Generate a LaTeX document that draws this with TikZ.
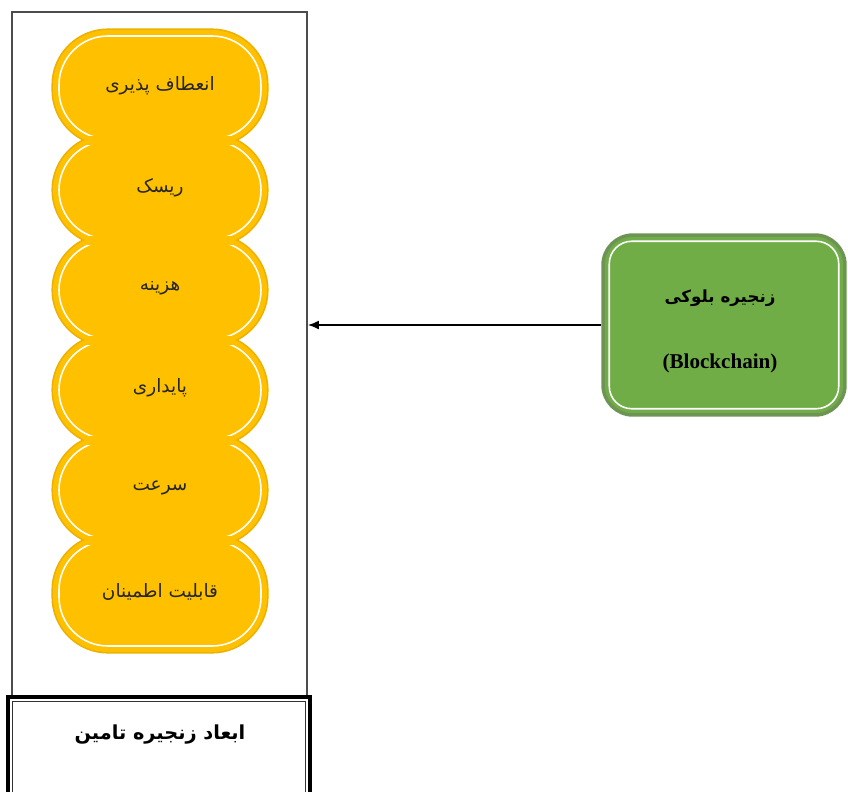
\documentclass[tikz,border=0pt]{standalone}
\usepackage{fontspec}
\usetikzlibrary{arrows.meta}
\newfontfamily\arabicfont[Script=Arabic]{DejaVu Sans}
\newfontfamily\latinserif{Liberation Serif}
\TeXXeTstate=1
\definecolor{gold}{HTML}{FFC000}
\definecolor{goldedge}{HTML}{EBB000}
\definecolor{leaf}{HTML}{70AD47}
\definecolor{leafedge}{HTML}{6E9455}
\tikzstyle{lobe} = [rounded corners=1.1cm]
\tikzstyle{lobeline} = [draw=white, line width=0.9pt, rounded corners=0.98cm]
\tikzstyle{lobetext} = [font=\arabicfont\fontsize{10.5}{12}\selectfont, text=black!85]
\tikzstyle{containerbox} = [draw=black!70, line width=1.1pt, rectangle, inner sep=0pt]
\tikzstyle{titlebox} = [draw=black, line width=2.4pt, rectangle, inner sep=0pt]
\tikzstyle{chainbox} = [draw=leafedge, fill=leaf, line width=2pt, rectangle,
    rounded corners=0.6cm, inner sep=0pt, align=center]

\begin{document}
\begin{tikzpicture}[x=0.02cm, y=-0.02cm]
\useasboundingbox (0,0) rectangle (848,791);
\def\lobes{30/145/0/135/flex/{انعطاف پذیری},
    135/245/145/235/risk/{ریسک},
    235/345/245/335/cost/{هزینه},
    335/445/345/435/stable/{پایداری},
    435/545/445/535/speed/{سرعت},
    535/652/545/700/trust/{قابلیت اطمینان}}

\node[containerbox, minimum width=5.9cm, minimum height=13.7cm] (dims) at (159.5,354.5) {};
\node[titlebox, minimum width=6.04cm, minimum height=2cm] (title) at (159,747) {};
\draw[black!80, line width=0.5pt] ([shift={(7,7)}]title.north west) rectangle ([shift={(-7,-7)}]title.south east);
\node[font=\arabicfont\bfseries\fontsize{11}{13}\selectfont] (titletext) at (160,735) {\beginR ابعاد زنجیره تامین\endR};

% yellow lobes
\foreach \t/\b/\ct/\cb/\nm/\lbl in \lobes
    \draw[lobe, goldedge, line width=1.8pt] (53,\t) rectangle (267,\b);
\foreach \t/\b/\ct/\cb/\nm/\lbl in \lobes
    \fill[lobe, gold] (53,\t) rectangle (267,\b);
\foreach \t/\b/\ct/\cb/\nm/\lbl in \lobes {
    \begin{scope}
        \clip (0,\ct) rectangle (320,\cb);
        \draw[lobeline] (59,\t+6) rectangle (261,\b-6);
    \end{scope}
    \node[lobetext] (\nm) at (160,{(\t+\b)/2-2}) {\beginR\lbl\endR};
}

\node[chainbox, minimum width=4.84cm, minimum height=3.6cm] (chain) at (724,325) {};
\draw[white, line width=0.9pt, rounded corners=0.45cm] ([shift={(8,8)}]chain.north west) rectangle ([shift={(-8,-8)}]chain.south east);
\node[font=\arabicfont\bfseries\fontsize{9.5}{12}\selectfont] (chainfa) at (720,298) {\beginR زنجیره بلوکی\endR};
\node[font=\latinserif\bfseries\fontsize{12}{14}\selectfont] (chainen) at (720,363) {(Blockchain)};

\draw[-{Latex[length=0.22cm,width=0.18cm]}, line width=0.85pt] (chain.west) -- (dims.east |- chain.west);
\end{tikzpicture}
\end{document}
